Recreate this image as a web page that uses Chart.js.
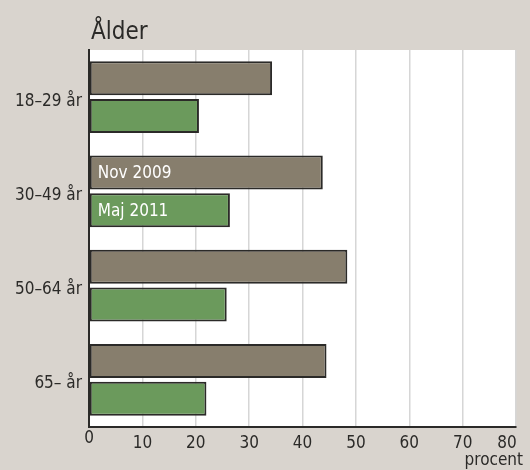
<!DOCTYPE html>
<html>
<head>
<meta charset="utf-8">
<script src="https://cdn.jsdelivr.net/npm/chart.js@4/dist/chart.umd.min.js"></script>
<style>
  html, body { margin: 0; padding: 0; background: #d9d4ce; }
  #wrap { width: 530px; height: 470px; }
</style>
</head>
<body>
<div id="wrap"><canvas id="ageChart"></canvas></div>
<script>
const ageGroups = ["18–29 år", "30–49 år", "50–64 år", "65– år"];
const nov2009 = [34.3, 43.8, 48.4, 44.5];
const maj2011 = [20.6, 26.4, 25.8, 22.0];
const seriesNames = ["Nov 2009", "Maj 2011"];
const xTicks = [0, 10, 20, 30, 40, 50, 60, 70, 80];
const chartTitle = "Ålder";
const unitLabel = "procent";
const labelledGroup = "30–49 år";

const FONT = "'DejaVu Sans Condensed', 'DejaVu Sans', sans-serif";
const INK = "#2b2a28";

Chart.defaults.font.family = FONT;
Chart.defaults.font.size = 17;
Chart.defaults.color = INK;

const plotBackground = {
  id: "plotBackground",
  beforeDraw(chart) {
    const { ctx, chartArea: a } = chart;
    ctx.save();
    ctx.fillStyle = "#ffffff";
    ctx.fillRect(a.left, a.top, a.right - a.left, a.bottom - a.top);
    ctx.restore();
  },
};

const titleAndLabels = {
  id: "titleAndLabels",
  afterDraw(chart) {
    const { ctx, chartArea: a } = chart;
    const xScale = chart.scales.x;
    ctx.save();
    ctx.fillStyle = INK;
    ctx.font = "24px " + FONT;
    ctx.textBaseline = "alphabetic";
    ctx.fillText(chartTitle, a.left + 2, 39);

    // series names written inside the bars of one group
    const idx = ageGroups.indexOf(labelledGroup);
    ctx.font = "17px " + FONT;
    ctx.fillStyle = "#ffffff";
    ctx.textBaseline = "middle";
    chart.data.datasets.forEach((ds, i) => {
      const bar = chart.getDatasetMeta(i).data[idx];
      ctx.fillText(ds.label, bar.base + 8, bar.y + 1);
    });

    // x tick labels: first one sits a little higher, last one is pulled in
    ctx.fillStyle = INK;
    ctx.textAlign = "center";
    xTicks.forEach((v, i) => {
      let x = xScale.getPixelForValue(v);
      let y = a.bottom + 17;
      if (i === 0) y -= 5;
      if (i === xTicks.length - 1) x -= 9;
      ctx.fillText(String(v), x, y);
    });

    // unit under the last x tick
    ctx.textAlign = "right";
    ctx.textBaseline = "alphabetic";
    ctx.fillText(unitLabel, a.right + 7, 465);
    ctx.restore();
  },
};

new Chart(document.getElementById("ageChart"), {
  type: "bar",
  data: {
    labels: ageGroups,
    datasets: [
      {
        label: seriesNames[0],
        data: nov2009,
        backgroundColor: "#877e6d",
        borderColor: INK,
        borderWidth: 2,
        borderSkipped: false,
      },
      {
        label: seriesNames[1],
        data: maj2011,
        backgroundColor: "#6b9a5c",
        borderColor: INK,
        borderWidth: 2,
        borderSkipped: false,
      },
    ],
  },
  options: {
    indexAxis: "y",
    responsive: true,
    maintainAspectRatio: false,
    animation: false,
    categoryPercentage: 0.8,
    barPercentage: 0.9,
    layout: { padding: { top: 50, right: 14, left: 0, bottom: 0 } },
    plugins: {
      legend: { display: false },
      tooltip: { enabled: false },
    },
    scales: {
      x: {
        min: 0,
        max: 80,
        afterBuildTicks(scale) {
          scale.ticks = xTicks.map((v) => ({ value: v }));
        },
        afterFit(scale) {
          scale.height = 43;
          scale.paddingLeft = 0;
          scale.paddingRight = 0;
        },
        grid: {
          color: "#d6d6d6",
          lineWidth: 1.5,
          drawTicks: false,
        },
        border: { color: INK, width: 2 },
        ticks: { display: false },
      },
      y: {
        afterFit(scale) {
          scale.width = 89;
        },
        grid: { display: false, drawTicks: false },
        border: { color: INK, width: 2 },
        ticks: { padding: 7, color: INK, labelOffset: 4 },
      },
    },
  },
  plugins: [plotBackground, titleAndLabels],
});
</script>
</body>
</html>
